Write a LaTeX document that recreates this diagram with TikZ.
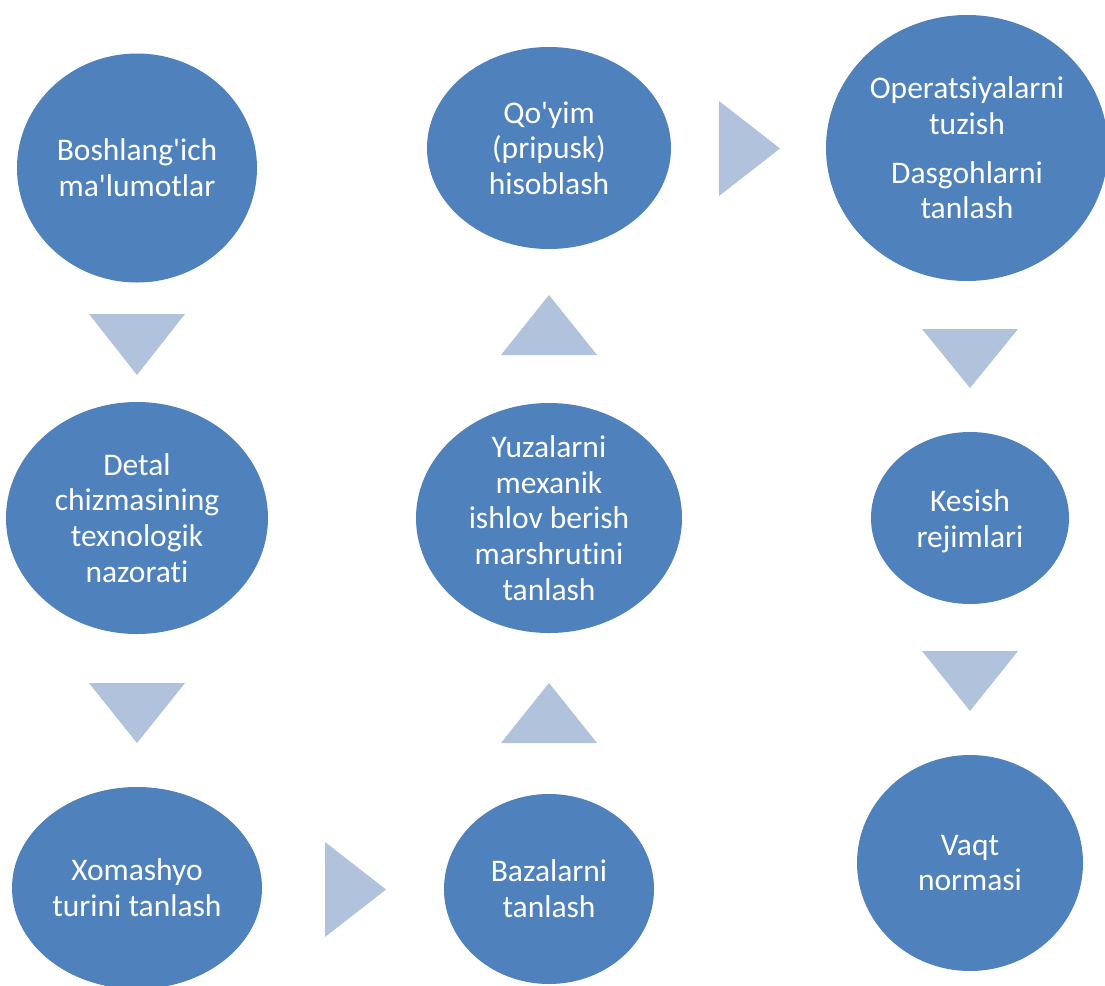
\documentclass[tikz,border=0pt]{standalone}
\usepackage{fontspec}
\defaultfontfeatures{}
\setmainfont{Carlito}[Ligatures=TeXOff, RawFeature={-liga;-clig;-calt;-dlig}]
\usetikzlibrary{shapes.geometric}
\definecolor{ellblue}{HTML}{4F81BD}
\definecolor{trifill}{HTML}{B0C2DC}
\begin{document}
\begin{tikzpicture}[x=1pt,y=-1pt,
  stepell/.style={ellipse, fill=ellblue, draw=none, inner sep=0pt, outer sep=0pt},
  steptext/.style={text=white, align=center, inner sep=0pt, font=\fontsize{31.5}{35.7}\selectfont},
  tri/.style={fill=trifill, draw=none}]
\useasboundingbox (0,0) rectangle (1105,985);
\clip (0,0) rectangle (1105,985);
\fill[white] (0,0) rectangle (1105,985);

% ellipses
\node[stepell, minimum width=240pt, minimum height=229pt] (n1) at (137,168) {};
\node[stepell, minimum width=262pt, minimum height=232pt] (n2) at (137,518) {};
\node[stepell, minimum width=250pt, minimum height=202pt] (n3) at (137,888) {};
\node[stepell, minimum width=210pt, minimum height=190pt] (n4) at (549,889) {};
\node[stepell, minimum width=266pt, minimum height=230pt] (n5) at (549,518) {};
\node[stepell, minimum width=244pt, minimum height=202pt] (n6) at (549,148) {};
\node[stepell, minimum width=282pt, minimum height=266pt] (n7) at (967,148) {};
\node[stepell, minimum width=198pt, minimum height=172pt] (n8) at (970,518) {};
\node[stepell, minimum width=226pt, minimum height=216pt] (n9) at (970,863) {};

% texts
\node[steptext] (l1) at (n1) {Boshlang'ich\\ma'lumotlar};
\node[steptext] (l2) at (n2) {Detal\\chizmasining\\texnologik\\nazorat\kern0pt i};
\node[steptext] (l3) at (n3) {Xomashyo\\turini tanlash};
\node[steptext] (l4) at (n4) {Bazalarni\\tanlash};
\node[steptext] (l5) at (n5) {Yuzalarni\\mexanik\\ishlov berish\\marshrut\kern0pt ini\\tanlash};
\node[steptext] (l6) at (n6) {Qo'yim\\(pripusk)\\hisoblash};
\node[steptext] (l7) at (n7) {Operatsiyalarni\\tuzish\\[13pt]Dasgohlarni\\tanlash};
\node[steptext, yshift=-3pt] (l8) at (n8) {Kesish\\rejimlari};
\node[steptext] (l9) at (n9) {Vaqt\\normasi};

% triangles (flow arrows)
\fill[tri] (89,314) -- (185,314) -- (137,375) -- cycle;
\fill[tri] (89,683) -- (185,683) -- (137,743) -- cycle;
\fill[tri] (325,842) -- (386,889.5) -- (325,937) -- cycle;
\fill[tri] (501,743) -- (597,743) -- (549,683) -- cycle;
\fill[tri] (501,355) -- (597,355) -- (549,295) -- cycle;
\fill[tri] (719,101) -- (780,148.5) -- (719,196) -- cycle;
\fill[tri] (922,329) -- (1018,329) -- (970,388) -- cycle;
\fill[tri] (922,651) -- (1018,651) -- (970,711) -- cycle;
\end{tikzpicture}
\end{document}
